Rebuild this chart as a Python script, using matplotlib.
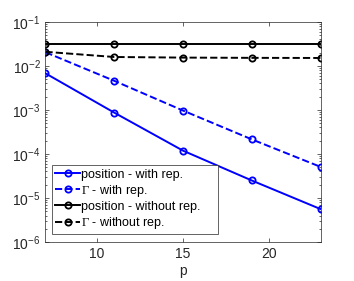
import matplotlib
matplotlib.use("Agg")
import matplotlib.pyplot as plt
from matplotlib.ticker import LogLocator, NullFormatter

plt.rcParams["font.family"] = ["Liberation Sans", "DejaVu Sans"]
plt.rcParams["mathtext.fontset"] = "custom"
plt.rcParams["mathtext.rm"] = "Liberation Serif"
plt.rcParams["mathtext.it"] = "Liberation Serif:italic"

p = [7, 11, 15, 19, 23]
pos_rep = [6.8e-3, 8.7e-4, 1.19e-4, 2.5e-5, 5.6e-6]
gamma_rep = [2.05e-2, 4.6e-3, 9.7e-4, 2.15e-4, 5.1e-5]
pos_norep = [3.2e-2, 3.2e-2, 3.2e-2, 3.2e-2, 3.2e-2]
gamma_norep = [2.1e-2, 1.6e-2, 1.55e-2, 1.53e-2, 1.52e-2]
labels = ["position - with rep.", r"$\mathrm{\Gamma}$ - with rep.",
          "position - without rep.", r"$\mathrm{\Gamma}$ - without rep."]

fig = plt.figure(figsize=(3.54, 2.81), dpi=100)
ax = fig.add_axes([0.1285, 0.1388, 0.777, 0.783])

blue = "#0000ff"
kw = dict(marker="o", markersize=4.5, markerfacecolor="none", markeredgewidth=1.3, linewidth=1.4)
ax.plot(p, pos_rep, "-", color=blue, label=labels[0], **kw)
ax.plot(p, gamma_rep, "--", color=blue, label=labels[1], **kw)
ax.plot(p, pos_norep, "-", color="black", label=labels[2], **kw)
ax.plot(p, gamma_norep, "--", color="black", label=labels[3], **kw)

ax.set_yscale("log")
ax.set_xlim(7, 23)
ax.set_ylim(1e-6, 1e-1)
ax.set_xticks([10, 15, 20])
ax.yaxis.set_major_locator(LogLocator(base=10, numticks=10))
ax.yaxis.set_minor_locator(LogLocator(base=10, subs=range(2, 10), numticks=20))
ax.yaxis.set_minor_formatter(NullFormatter())
ax.set_xlabel("p", fontsize=10, color="#262626", labelpad=2)

ax.tick_params(which="both", direction="in", top=True, right=True, colors="#262626",
               labelsize=10, width=0.5)
ax.tick_params(which="major", length=3)
ax.tick_params(which="minor", length=1.5)
for s in ax.spines.values():
    s.set_color("#262626")
    s.set_linewidth(0.5)

leg = ax.legend(loc="lower left", bbox_to_anchor=(0.024, 0.036, 0.603, 0.2), mode="expand",
                fontsize=9, handlelength=2.0, handletextpad=0.1, borderpad=0.25,
                labelspacing=0.17, borderaxespad=0, fancybox=False, framealpha=1)
leg.get_frame().set_edgecolor("#262626")
leg.get_frame().set_linewidth(0.5)

fig.savefig("out.png", dpi=100)
